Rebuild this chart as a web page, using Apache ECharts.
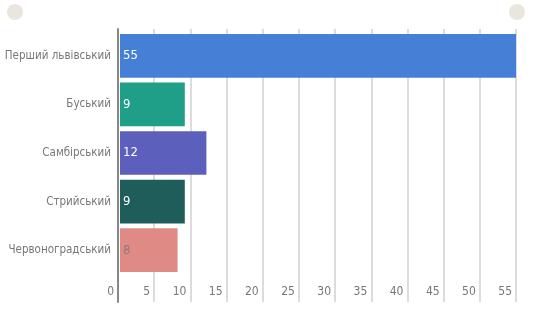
<!DOCTYPE html>
<html>
<head>
<meta charset="utf-8">
<script src="https://cdn.jsdelivr.net/npm/echarts@6/dist/echarts.min.js"></script>
<style>
  html, body { margin: 0; padding: 0; background: #fff; }
  #chart { width: 547px; height: 335px; }
</style>
</head>
<body>
<div id="chart"></div>
<script>
const districts = ['Перший львівський', 'Буський', 'Самбірський', 'Стрийський', 'Червоноградський'];
const counts = [55, 9, 12, 9, 8];
const barColors = ['#4680d6', '#1f9e88', '#5d5fbd', '#1f5d5a', '#e08a86'];
const labelColors = ['#fff', '#fff', '#fff', '#fff', '#8d7b7b'];
const xTicks = [0, 5, 10, 15, 20, 25, 30, 35, 40, 45, 50, 55];

const font = '"Liberation Sans Narrow", "DejaVu Sans Condensed", sans-serif';
const chart = echarts.init(document.getElementById('chart'));

chart.setOption({
  animation: false,
  graphic: [
    { type: 'circle', shape: { cx: 15, cy: 12, r: 8 }, style: { fill: '#e8e6dd' } },
    { type: 'circle', shape: { cx: 517, cy: 12, r: 8 }, style: { fill: '#e8e6dd' } }
  ],
  grid: [
    // full-height grid for split lines, axis line and tick labels
    { left: 118, right: 31, top: 29, bottom: 33, outerBoundsMode: 'none' },
    // grid for the bars and category labels
    { left: 120, right: 31, top: 31.5, bottom: 60.5, outerBoundsMode: 'none' }
  ],
  xAxis: [
    {
      gridIndex: 0,
      type: 'value',
      min: xTicks[0],
      max: xTicks[xTicks.length - 1],
      interval: 5,
      axisLine: { show: false },
      axisTick: { show: false },
      splitLine: { show: true, lineStyle: { color: '#dcdcdc', width: 2 } },
      axisLabel: {
        inside: true,
        margin: 4,
        align: 'right',
        padding: [0, 4, 0, 0],
        color: '#777',
        fontFamily: font,
        fontSize: 12,
        showMaxLabel: true,
        showMinLabel: true
      }
    },
    {
      gridIndex: 1,
      type: 'value',
      min: xTicks[0],
      max: xTicks[xTicks.length - 1],
      show: false
    }
  ],
  yAxis: [
    {
      gridIndex: 0,
      type: 'category',
      data: districts,
      inverse: true,
      z: 5,
      axisLine: { show: true, lineStyle: { color: '#888', width: 2 } },
      axisTick: { show: false },
      axisLabel: { show: false },
      splitLine: { show: false }
    },
    {
      gridIndex: 1,
      type: 'category',
      data: districts,
      inverse: true,
      axisLine: { show: false },
      axisTick: { show: false },
      axisLabel: {
        margin: 9,
        color: '#777',
        fontFamily: font,
        fontSize: 11.5
      }
    }
  ],
  series: [{
    type: 'bar',
    xAxisIndex: 1,
    yAxisIndex: 1,
    barCategoryGap: '10%',
    data: counts.map((v, i) => ({
      value: v,
      itemStyle: { color: barColors[i] },
      label: { color: labelColors[i] }
    })),
    label: {
      show: true,
      position: 'insideLeft',
      distance: 3,
      fontFamily: font,
      fontSize: 13
    }
  }]
});
</script>
</body>
</html>
